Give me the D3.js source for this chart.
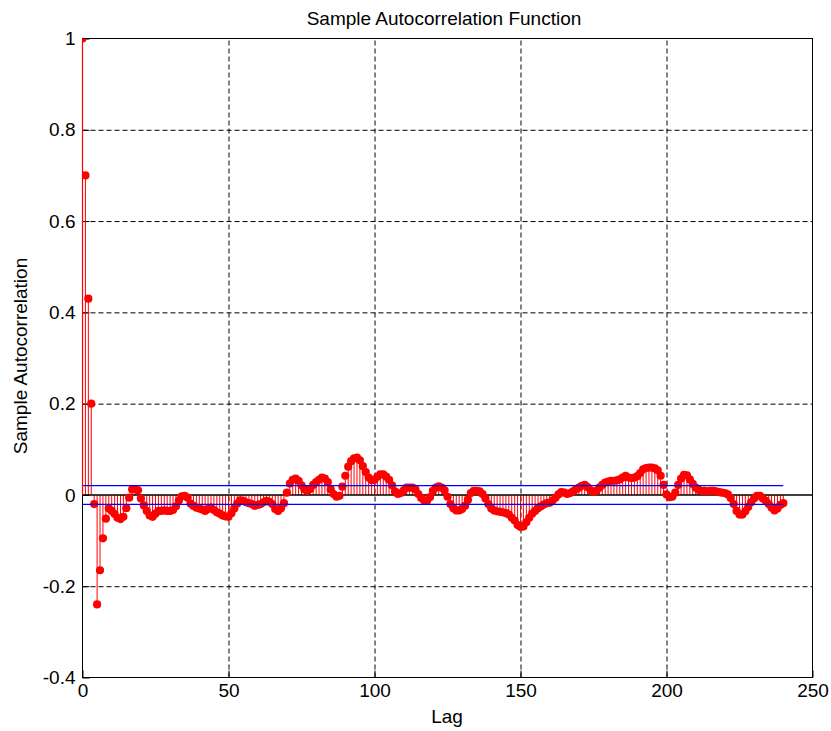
<!DOCTYPE html>
<html>
<head>
<meta charset="utf-8">
<script src="https://cdn.jsdelivr.net/npm/d3@7/dist/d3.min.js"></script>
<style>
  html, body { margin: 0; padding: 0; background: #ffffff; }
  svg { display: block; }
  text { font-family: "Liberation Sans", Arial, sans-serif; fill: #000; }
</style>
</head>
<body>
<svg id="chart" width="831" height="731"></svg>
<script>
// Sample autocorrelation values, lags 0..240
const lags = d3.range(0, 241);
const acf = [
  1.000, 0.700, 0.430, 0.200, -0.020, -0.240, -0.165, -0.095, -0.052, -0.030,
  -0.035, -0.042, -0.050, -0.053, -0.048, -0.029, -0.006, 0.012, 0.013, 0.010,
  -0.008, -0.023, -0.035, -0.045, -0.048, -0.041, -0.035, -0.035, -0.034, -0.035,
  -0.035, -0.033, -0.025, -0.012, -0.003, -0.002, -0.006, -0.019, -0.024, -0.028,
  -0.030, -0.032, -0.035, -0.031, -0.028, -0.033, -0.038, -0.041, -0.045, -0.047,
  -0.048, -0.040, -0.030, -0.019, -0.012, -0.013, -0.016, -0.018, -0.020, -0.024,
  -0.022, -0.020, -0.016, -0.013, -0.015, -0.020, -0.031, -0.035, -0.029, -0.018,
  0.005, 0.025, 0.033, 0.036, 0.031, 0.021, 0.012, 0.009, 0.013, 0.022,
  0.028, 0.033, 0.038, 0.036, 0.028, 0.012, 0.002, -0.004, -0.002, 0.018,
  0.042, 0.062, 0.074, 0.080, 0.082, 0.076, 0.063, 0.050, 0.038, 0.032,
  0.033, 0.040, 0.045, 0.045, 0.040, 0.033, 0.021, 0.008, 0.002, 0.004,
  0.010, 0.016, 0.016, 0.016, 0.012, 0.002, -0.007, -0.012, -0.013, -0.005,
  0.009, 0.016, 0.019, 0.016, 0.010, -0.004, -0.020, -0.029, -0.034, -0.034,
  -0.031, -0.024, -0.011, 0.004, 0.009, 0.009, 0.008, 0.002, -0.008, -0.020,
  -0.030, -0.034, -0.036, -0.037, -0.038, -0.040, -0.043, -0.050, -0.056, -0.066,
  -0.070, -0.069, -0.060, -0.050, -0.041, -0.035, -0.029, -0.025, -0.021, -0.018,
  -0.017, -0.012, -0.006, 0.001, 0.006, 0.005, 0.002, 0.004, 0.008, 0.012,
  0.016, 0.020, 0.022, 0.017, 0.010, 0.007, 0.009, 0.016, 0.022, 0.027,
  0.029, 0.031, 0.031, 0.032, 0.034, 0.038, 0.042, 0.038, 0.037, 0.038,
  0.041, 0.048, 0.056, 0.059, 0.060, 0.060, 0.058, 0.054, 0.042, 0.022,
  0.001, -0.005, -0.004, 0.005, 0.022, 0.036, 0.044, 0.043, 0.034, 0.024,
  0.016, 0.011, 0.009, 0.009, 0.008, 0.009, 0.009, 0.008, 0.006, 0.005,
  0.004, 0.001, -0.007, -0.020, -0.035, -0.043, -0.043, -0.036, -0.026, -0.016,
  -0.008, -0.002, -0.002, -0.008, -0.013, -0.020, -0.028, -0.034, -0.030, -0.022,
  -0.018
];
// Approximate 95% confidence bounds
const bounds = [0.0205, -0.0205];
const xTicks = [0, 50, 100, 150, 200, 250];
const yTicks = [-0.4, -0.2, 0, 0.2, 0.4, 0.6, 0.8, 1];
const titleText = "Sample Autocorrelation Function";
const xLabel = "Lag";
const yLabel = "Sample Autocorrelation";

const margin = { left: 82.5, right: 18.5, top: 38.5, bottom: 53.5 };
const W = 831, H = 731;
const iw = W - margin.left - margin.right;
const ih = H - margin.top - margin.bottom;

const svg = d3.select("#chart");
svg.append("rect").attr("width", W).attr("height", H).attr("fill", "#fff");

svg.append("defs").append("clipPath").attr("id", "plot-clip")
  .append("rect").attr("width", iw).attr("height", ih);

const g = svg.append("g").attr("transform", `translate(${margin.left},${margin.top})`);

const x = d3.scaleLinear().domain([0, 250]).range([0, iw]);
const y = d3.scaleLinear().domain([-0.4, 1]).range([ih, 0]);

// Dashed grid (interior ticks only; the box and the zero baseline cover the rest)
const xInner = xTicks.filter(v => v > 0 && v < 250);
const yInner = yTicks.filter(v => v > -0.4 && v < 1 && v !== 0);
const gridX = g.append("g")
  .attr("transform", `translate(0,${ih})`)
  .call(d3.axisBottom(x).tickValues(xInner).tickSize(-ih).tickFormat(""));
const gridY = g.append("g")
  .call(d3.axisLeft(y).tickValues(yInner).tickSize(-iw).tickFormat(""));
[gridX, gridY].forEach(gr => {
  gr.select(".domain").remove();
  gr.selectAll(".tick line")
    .attr("stroke", "#000")
    .attr("stroke-width", 1)
    .attr("stroke-dasharray", "5,3");
});

// Axes with inward ticks; labels use a plain hyphen for negatives
const fmtY = d => String(+d.toFixed(1));
const xAxis = g.append("g")
  .attr("transform", `translate(0,${ih})`)
  .call(d3.axisBottom(x).tickValues(xTicks).tickSizeInner(-7).tickSizeOuter(0).tickPadding(6)
    .tickFormat(d => String(d)));
const yAxis = g.append("g")
  .call(d3.axisLeft(y).tickValues(yTicks).tickSizeInner(-7).tickSizeOuter(0).tickPadding(7)
    .tickFormat(fmtY));
[xAxis, yAxis].forEach(ax => {
  ax.select(".domain").remove();
  ax.selectAll(".tick line").attr("stroke", "#000");
  ax.selectAll(".tick text")
    .attr("font-family", "Liberation Sans, Arial, sans-serif")
    .attr("font-size", 19)
    .attr("fill", "#000");
});
xAxis.selectAll(".tick text").attr("dy", "0.71em");

const plot = g.append("g").attr("clip-path", "url(#plot-clip)");

// Stems
plot.append("g").selectAll("line.stem")
  .data(lags)
  .join("line")
  .attr("class", "stem")
  .attr("x1", d => x(d)).attr("x2", d => x(d))
  .attr("y1", y(0)).attr("y2", d => y(acf[d]))
  .attr("stroke", "#ff0000")
  .attr("stroke-width", 1);

// Zero baseline
plot.append("line")
  .attr("x1", 0).attr("x2", iw)
  .attr("y1", y(0)).attr("y2", y(0))
  .attr("stroke", "#000").attr("stroke-width", 1.5);

// Markers
plot.append("g").selectAll("circle")
  .data(lags)
  .join("circle")
  .attr("cx", d => x(d))
  .attr("cy", d => y(acf[d]))
  .attr("r", 4.1)
  .attr("fill", "#ff0000");

// Confidence bounds
plot.append("g").selectAll("line.bound")
  .data(bounds)
  .join("line")
  .attr("class", "bound")
  .attr("x1", x(lags[0])).attr("x2", x(lags[lags.length - 1]))
  .attr("y1", d => y(d)).attr("y2", d => y(d))
  .attr("stroke", "#0000ff").attr("stroke-width", 1.2);

// Box
g.append("rect")
  .attr("width", iw).attr("height", ih)
  .attr("fill", "none").attr("stroke", "#000").attr("stroke-width", 1);

// Lag-0 stem drawn over the left edge of the box
g.append("line")
  .attr("x1", x(lags[0])).attr("x2", x(lags[0]))
  .attr("y1", y(0)).attr("y2", y(acf[0]))
  .attr("stroke", "#ff0000").attr("stroke-width", 1.2);

// Title and axis labels
svg.append("text")
  .attr("x", 444).attr("y", 25)
  .attr("text-anchor", "middle").attr("font-size", 19)
  .text(titleText);
svg.append("text")
  .attr("x", 447).attr("y", 723)
  .attr("text-anchor", "middle").attr("font-size", 19)
  .text(xLabel);
svg.append("text")
  .attr("transform", `translate(27,${356}) rotate(-90)`)
  .attr("text-anchor", "middle").attr("font-size", 19)
  .text(yLabel);
</script>
</body>
</html>
